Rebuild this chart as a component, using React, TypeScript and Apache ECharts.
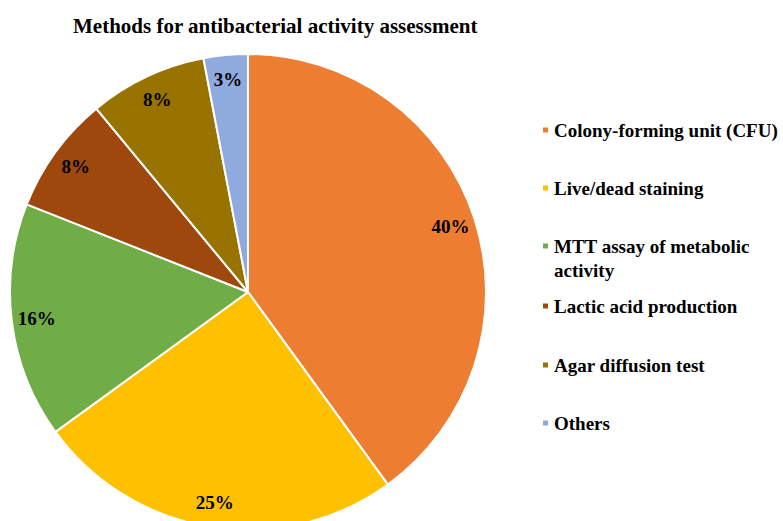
import React, { useEffect, useRef } from "react";
import * as echarts from "echarts";

const titleText = "Methods for antibacterial activity assessment";
const categories = [
  "Colony-forming unit (CFU)",
  "Live/dead staining",
  "MTT assay of metabolic activity",
  "Lactic acid production",
  "Agar diffusion test",
  "Others",
];
const values = [40, 25, 16, 8, 8, 3];
const colors = ["#ED7D31", "#FFC000", "#70AD47", "#9E480E", "#997300", "#8FAADC"];

// layout only
const legendCenters = [130, 188, 246, 306, 365, 423];

const FONT = "Liberation Serif";

export default function App() {
  const ref = useRef<HTMLDivElement>(null);
  useEffect(() => {
    if (!ref.current) return;
    const chart = echarts.init(ref.current, undefined, { renderer: "svg" });
    const data = categories.map((name, i) => ({
      name,
      value: values[i],
      itemStyle: { color: colors[i] },
    }));
    const legends = categories.map((name, i) => {
      const wrap = name === "MTT assay of metabolic activity";
      return {
        orient: "vertical",
        left: 541,
        top: wrap ? legendCenters[i] - 36 : legendCenters[i] - 12,
        padding: 0,
        data: [name],
        icon: "rect",
        itemWidth: 7,
        itemHeight: 7,
        selectedMode: false,
        formatter: (n: string) =>
          n === "MTT assay of metabolic activity" ? " \nMTT assay of metabolic\nactivity" : n,
        textStyle: {
          fontFamily: FONT,
          fontWeight: "bold",
          fontSize: 19,
          lineHeight: 24,
          color: "#000",
        },
      };
    });
    chart.setOption({
      animation: false,
      backgroundColor: "#fff",
      title: {
        text: titleText,
        left: 73,
        top: 14,
        padding: 0,
        textStyle: {
          fontFamily: FONT,
          fontWeight: "bold",
          fontSize: 21,
          lineHeight: 24,
          color: "#000",
        },
      },
      legend: legends,
      series: [
        {
          type: "pie",
          center: [248, 292],
          radius: [0, 238],
          startAngle: 90,
          clockwise: true,
          data,
          label: { show: false },
          labelLine: { show: false },
          itemStyle: { borderColor: "#fff", borderWidth: 2 },
          emphasis: { disabled: true },
        },
        {
          type: "pie",
          center: [248, 292],
          radius: [182, 238],
          startAngle: 90,
          clockwise: true,
          silent: true,
          data: categories.map((name, i) => ({ name, value: values[i] })),
          itemStyle: { color: "rgba(0,0,0,0)", borderWidth: 0 },
          label: {
            show: true,
            position: "inside",
            formatter: "{c}%",
            fontFamily: FONT,
            fontWeight: "bold",
            fontSize: 19,
            color: "#000",
          },
          labelLine: { show: false },
          emphasis: { disabled: true },
        },
      ],
    });
    return () => chart.dispose();
  }, []);
  return (
    <div
      ref={ref}
      style={{ position: "fixed", left: 0, top: 0, width: 783, height: 521 }}
    />
  );
}
